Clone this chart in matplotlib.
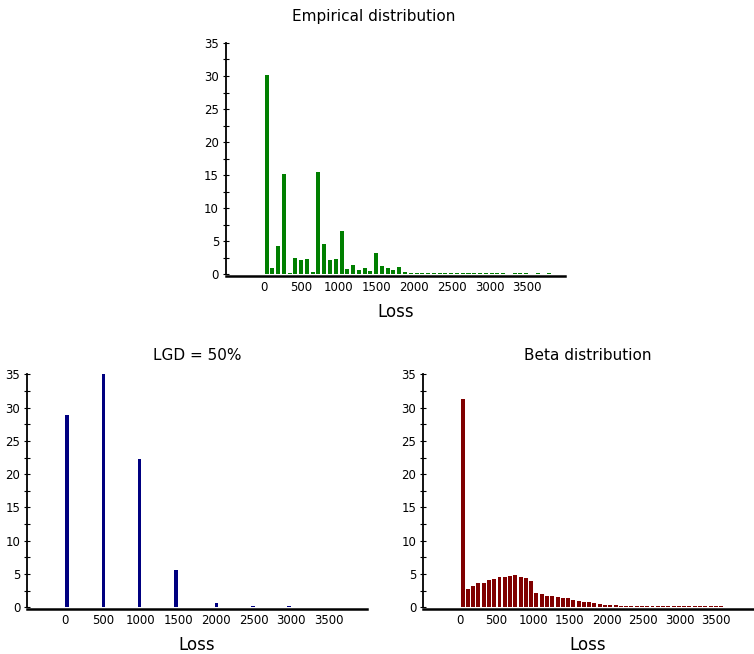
import numpy as np
import matplotlib
matplotlib.use('Agg')
import matplotlib.pyplot as plt
from matplotlib.ticker import MultipleLocator

# Empirical distribution: 50 bins of loss
emp_bin_width = 76.6
emp_heights = [30.1, 1.0, 4.3, 15.2, 0.25, 2.4, 2.1, 2.3, 0.35, 15.5,
               4.6, 2.1, 2.3, 6.5, 0.8, 1.4, 0.7, 1.0, 0.55, 3.2,
               1.3, 0.96, 0.6, 1.15, 0.35, 0.2, 0.15, 0.15, 0.15, 0.15,
               0.15, 0.15, 0.15, 0.15, 0.15, 0.15, 0.15, 0.15, 0.15, 0.15,
               0.15, 0.15, 0.0, 0.15, 0.15, 0.15, 0.0, 0.15, 0.0, 0.15]

# LGD = 50%
lgd_centers = [30, 510, 990, 1470, 2010, 2490, 2970]
lgd_heights = [28.9, 35.0, 22.3, 5.6, 0.65, 0.2, 0.2]

# Beta distribution: 50 bins of loss
beta_bin_width = 72
beta_heights = [31.3, 2.8, 3.2, 3.6, 3.7, 4.1, 4.3, 4.5, 4.6, 4.7,
                4.8, 4.6, 4.4, 4.0, 2.2, 2.0, 1.7, 1.7, 1.6, 1.4,
                1.4, 1.1, 1.0, 0.8, 0.75, 0.65, 0.5, 0.35, 0.3, 0.3,
                0.25, 0.25, 0.25, 0.2, 0.2, 0.2, 0.2, 0.2, 0.2, 0.2,
                0.2, 0.2, 0.2, 0.2, 0.2, 0.2, 0.2, 0.2, 0.2, 0.2]

x_ticks = [0, 500, 1000, 1500, 2000, 2500, 3000, 3500]


def style_axis(ax):
    ax.set_xlim(-500, 4000)
    ax.set_ylim(0, 35)
    ax.set_xticks(x_ticks)
    ax.yaxis.set_major_locator(MultipleLocator(5))
    ax.yaxis.set_minor_locator(MultipleLocator(2.5))
    for s in ['top', 'right']:
        ax.spines[s].set_visible(False)
    ax.spines['left'].set_linewidth(1.3)
    ax.spines['bottom'].set_linewidth(1.8)
    # push the x axis line just under zero so tiny bars stay visible
    ax.spines['bottom'].set_position(('outward', 1))
    ax.tick_params(axis='x', length=0, labelsize=8.5, pad=4)
    ax.tick_params(axis='y', which='both', direction='inout', length=4,
                   width=0.8, labelsize=8.5, pad=3)
    ax.set_xlabel('Loss', fontsize=12, labelpad=6)


fig = plt.figure(figsize=(7.54, 6.54), dpi=100)

ax1 = fig.add_axes([0.2997, 0.5806, 0.4496, 0.3537])
emp_centers = (np.arange(len(emp_heights)) + 0.5) * emp_bin_width
ax1.bar(emp_centers, emp_heights, width=emp_bin_width * 0.7, color='#007f00')
style_axis(ax1)
fig.text(374 / 754, 1 - 16 / 654, 'Empirical distribution', fontsize=11,
         ha='center', va='center')

ax2 = fig.add_axes([0.0362, 0.0714, 0.4501, 0.3563])
ax2.bar(lgd_centers, lgd_heights, width=48, color='#000080')
style_axis(ax2)
ax2.set_title('LGD = 50%', fontsize=11, pad=10)

ax3 = fig.add_axes([0.5614, 0.0714, 0.4373, 0.3563])
beta_centers = (np.arange(len(beta_heights)) + 0.5) * beta_bin_width
ax3.bar(beta_centers, beta_heights, width=beta_bin_width * 0.75, color='#800000')
style_axis(ax3)
ax3.set_title('Beta distribution', fontsize=11, pad=10)

fig.savefig('out.png', dpi=100)
